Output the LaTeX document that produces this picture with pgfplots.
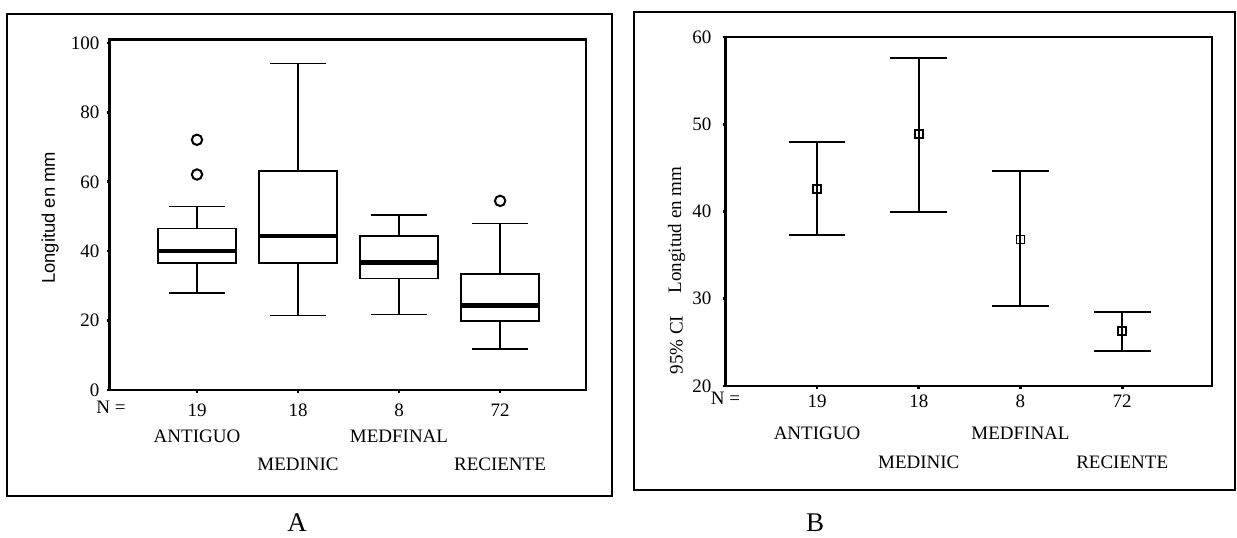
\documentclass[border=0pt]{standalone}
\usepackage{fontspec}
\setmainfont{Liberation Serif}
\newfontfamily\arial{Liberation Sans}
\usepackage{pgfplots}
\pgfplotsset{compat=1.18}
\usepgfplotslibrary{statistics}

\pgfplotstableread{
x y ep em
1 42.6 5.4 5.3
2 48.9 8.7 8.9
3 36.8 7.8 7.6
4 26.3 2.2 2.3
}\cidata

\pgfplotsset{
  common/.style={
    scale only axis,
    anchor=south west,
    axis line style={line width=1.1pt},
    tick align=outside, tick pos=left,
    major tick length=1.5pt,
    tick style={line width=1.3pt, black},
    xtick={1,2,3,4},
    xticklabels={19,18,8,72},
    xticklabel style={anchor=center},
    ticklabel style={font=\fontsize{9.5}{10}\selectfont},
    /pgf/number format/assume math mode=true,
  },
}
\tikzset{catlab/.style={font=\fontsize{9.5}{10}\selectfont, anchor=center}}

\begin{document}
\begin{tikzpicture}
\useasboundingbox (0,0) rectangle (618.5pt,268.5pt);
\draw[line width=1.1pt] (3.5pt,20.5pt) rectangle (306pt,261.5pt);
\draw[line width=1.1pt] (317pt,23.5pt) rectangle (617.5pt,262.5pt);

% ---------------- Panel A: box plots ----------------
\begin{axis}[common,
  at={(54.75pt,73.5pt)},
  width=238.25pt, height=175.25pt,
  xmin=0.134, xmax=4.85, ymin=0, ymax=101,
  ytick={0,20,40,60,80,100},
  xticklabel style={yshift=-8.8pt},
  boxplot/draw direction=y,
  boxplot/box extend=0.776,
  boxplot/whisker extend=0.547,
  boxplot/every median/.style={line width=2.2pt},
]
\addplot[black, line width=0.85pt, mark=o, mark size=2.6pt, mark options={line width=1pt},
  boxplot prepared={draw position=1, lower whisker=28, lower quartile=36.5, median=40.1,
    upper quartile=46.5, upper whisker=52.9}]
  coordinates {(0,62.1) (0,72.1)};
\addplot[black, line width=0.85pt, mark=o, mark size=2.6pt,
  boxplot prepared={draw position=2, lower whisker=21.5, lower quartile=36.5, median=44.3,
    upper quartile=63.1, upper whisker=94.1}]
  coordinates {};
\addplot[black, line width=0.85pt, mark=o, mark size=2.6pt,
  boxplot prepared={draw position=3, lower whisker=21.8, lower quartile=32.1, median=36.7,
    upper quartile=44.3, upper whisker=50.4}]
  coordinates {};
\addplot[black, line width=0.85pt, mark=o, mark size=2.6pt, mark options={line width=1pt},
  boxplot prepared={draw position=4, lower whisker=11.8, lower quartile=19.8, median=24.4,
    upper quartile=33.5, upper whisker=48}]
  coordinates {(0,54.5)};
\end{axis}
% category labels of panel A (x positions of categories 1..4 of the axis above)
\node[catlab] at (55.5pt,64.7pt) {N =};
\node[catlab] at (98.5pt,50.25pt) {ANTIGUO};
\node[catlab] at (149pt,36.35pt) {MEDINIC};
\node[catlab] at (199.5pt,50.25pt) {MEDFINAL};
\node[catlab] at (250pt,36.35pt) {RECIENTE};

% ---------------- Panel B: 95% CI ----------------
\begin{axis}[common,
  at={(362.75pt,75.5pt)},
  width=243.25pt, height=174.5pt,
  xmin=0.1, xmax=4.883, ymin=20, ymax=60,
  ytick={20,30,40,50,60},
  xticklabel style={yshift=-6.35pt},
  yticklabel style={xshift=-2pt},
  clip=false,
]
\addplot[black, line width=1pt, only marks, mark=square, mark size=2pt,
  mark options={line width=0.8pt},
  error bars/.cd, y dir=both, y explicit,
  error mark=|,
  error bar style={line width=1pt},
  error mark options={line width=1pt, mark size=14.2pt}]
  table[x=x, y=y, y error plus=ep, y error minus=em] {\cidata};
\node[catlab, yshift=-6.35pt] at (rel axis cs:0,0) {N =};
\node[catlab, yshift=-23.5pt] at (axis cs:1,20) {ANTIGUO};
\node[catlab, yshift=-38pt] at (axis cs:2,20) {MEDINIC};
\node[catlab, yshift=-23.5pt] at (axis cs:3,20) {MEDFINAL};
\node[catlab, yshift=-38pt] at (axis cs:4,20) {RECIENTE};
\end{axis}

% axis titles and panel letters
\node[rotate=90, font=\arial\fontsize{9.2}{10}\selectfont] at (25pt,159.6pt) {Longitud en mm};
\node[rotate=90, font=\fontsize{9.5}{10}\selectfont] at (338.25pt,153.5pt) {Longitud en mm};
\node[rotate=90, font=\fontsize{9.5}{10}\selectfont] at (338.25pt,96pt) {95\% CI};
\node[font=\fontsize{13.5}{14}\selectfont] at (148.5pt,7pt) {A};
\node[font=\fontsize{13.5}{14}\selectfont] at (407.5pt,7pt) {B};
\end{tikzpicture}
\end{document}
